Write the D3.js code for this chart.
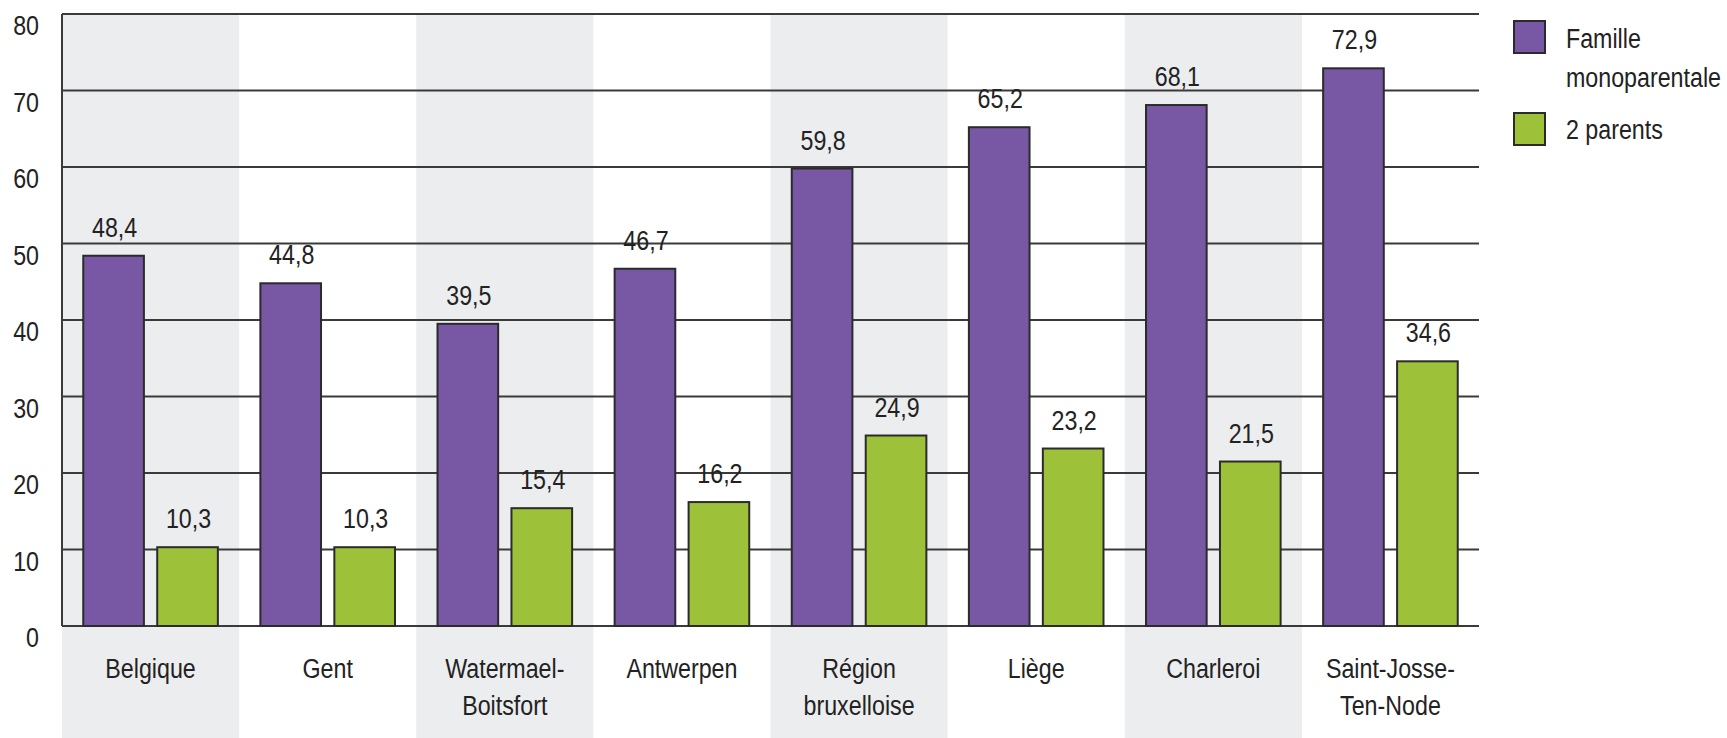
<!DOCTYPE html>
<html>
<head>
<meta charset="utf-8">
<script src="https://cdn.jsdelivr.net/npm/d3@7"></script>
<style>
  body { margin: 0; background: #fff; }
  svg text { font-family: "Liberation Sans", Arial, sans-serif; fill: #222; }
</style>
</head>
<body>
<svg id="chart" width="1727" height="738"></svg>
<script>
// data
const categories = [
  ["Belgique"], ["Gent"], ["Watermael-", "Boitsfort"], ["Antwerpen"],
  ["Région", "bruxelloise"], ["Liège"], ["Charleroi"], ["Saint-Josse-", "Ten-Node"]
];
const monoparentale = [48.4, 44.8, 39.5, 46.7, 59.8, 65.2, 68.1, 72.9];
const deuxParents = [10.3, 10.3, 15.4, 16.2, 24.9, 23.2, 21.5, 34.6];
const seriesNames = ["Famille monoparentale", "2 parents"];
const yTicks = [0, 10, 20, 30, 40, 50, 60, 70, 80];

const colors = ["#7857a5", "#9dc23a"];
const margin = { top: 14, left: 62 };
const plotW = 1417, plotH = 612;
const squeeze = 0.83; // no condensed face installed, so squash Liberation Sans

const svg = d3.select("#chart");
const keys = categories.map((c) => c.join(" "));

const xScale = d3.scaleBand().domain(keys).range([margin.left, margin.left + plotW]);
const sub = d3.scaleBand()
  .domain([0, 1])
  .range([xScale.bandwidth() * 0.12, xScale.bandwidth() * 0.88])
  .paddingInner(0.18);
const yScale = d3.scaleLinear().domain([0, 80]).range([margin.top + plotH, margin.top]);

const place = (x, y) => `translate(${x},${y}) scale(${squeeze},1)`;

// alternating grey bands (run down through the label area)
svg.append("g")
  .selectAll("rect")
  .data(keys.filter((d, i) => i % 2 === 0))
  .enter()
  .append("rect")
  .attr("x", (d) => xScale(d))
  .attr("y", margin.top)
  .attr("width", xScale.bandwidth())
  .attr("height", 738 - margin.top)
  .attr("fill", "#ecedef");

// gridlines
svg.append("g")
  .selectAll("line")
  .data(yTicks)
  .enter()
  .append("line")
  .attr("x1", margin.left)
  .attr("x2", margin.left + plotW)
  .attr("y1", (d) => yScale(d))
  .attr("y2", (d) => yScale(d))
  .attr("stroke", "#3a3a3a")
  .attr("stroke-width", 2);

// y axis line
svg.append("line")
  .attr("x1", margin.left)
  .attr("x2", margin.left)
  .attr("y1", yScale(80))
  .attr("y2", yScale(0))
  .attr("stroke", "#3a3a3a")
  .attr("stroke-width", 2);

// y tick labels (sit just under their gridline)
svg.append("g")
  .selectAll("text")
  .data(yTicks)
  .enter()
  .append("text")
  .attr("transform", (d) => place(39, yScale(d) + 21))
  .attr("text-anchor", "end")
  .attr("font-size", "28px")
  .text((d) => d);

// bars
const rows = keys.map((k, i) => ({ key: k, values: [monoparentale[i], deuxParents[i]] }));

const groups = svg.append("g")
  .selectAll("g")
  .data(rows)
  .enter()
  .append("g")
  .attr("transform", (d) => `translate(${xScale(d.key)},0)`);

groups.selectAll("rect")
  .data((d) => d.values.map((v, s) => ({ v, s })))
  .enter()
  .append("rect")
  .attr("x", (d) => sub(d.s))
  .attr("y", (d) => yScale(d.v))
  .attr("width", sub.bandwidth())
  .attr("height", (d) => yScale(0) - yScale(d.v))
  .attr("fill", (d) => colors[d.s])
  .attr("stroke", "#2b2b2b")
  .attr("stroke-width", 2);

groups.selectAll("text")
  .data((d) => d.values.map((v, s) => ({ v, s })))
  .enter()
  .append("text")
  .attr("transform", (d) => place(sub(d.s) + sub.bandwidth() / 2 + 1, yScale(d.v) - 19))
  .attr("text-anchor", "middle")
  .attr("font-size", "28px")
  .text((d) => d3.format(".1f")(d.v).replace(".", ","));

// category labels
const labels = svg.append("g")
  .selectAll("text")
  .data(categories)
  .enter()
  .append("text")
  .attr("transform", (d, i) => place(xScale(keys[i]) + xScale.bandwidth() / 2, 678))
  .attr("text-anchor", "middle")
  .attr("font-size", "28px");

labels.selectAll("tspan")
  .data((d) => d)
  .enter()
  .append("tspan")
  .attr("x", 0)
  .attr("dy", (d, i) => (i === 0 ? 0 : 37))
  .text((d) => d);

// legend
const legend = svg.append("g").attr("transform", "translate(1514,21)");
const legendRows = [["Famille", "monoparentale"], ["2 parents"]];

legend.selectAll("rect")
  .data(seriesNames)
  .enter()
  .append("rect")
  .attr("x", 0)
  .attr("y", (d, i) => i * 92)
  .attr("width", 31)
  .attr("height", 32)
  .attr("fill", (d, i) => colors[i])
  .attr("stroke", "#2b2b2b")
  .attr("stroke-width", 2);

const legendText = legend.selectAll("text.lg")
  .data(legendRows)
  .enter()
  .append("text")
  .attr("class", "lg")
  .attr("transform", (d, i) => place(52, 27 + i * 91))
  .attr("font-size", "28px");

legendText.selectAll("tspan")
  .data((d) => d)
  .enter()
  .append("tspan")
  .attr("x", 0)
  .attr("dy", (d, i) => (i === 0 ? 0 : 39))
  .text((d) => d);
</script>
</body>
</html>
